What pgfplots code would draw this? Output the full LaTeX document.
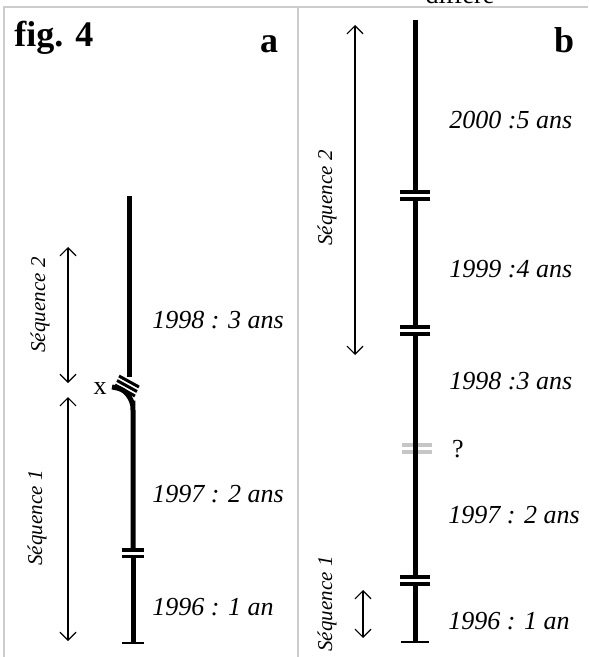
\documentclass[border=0pt]{standalone}
\usepackage{pgfplots}
\pgfplotsset{compat=1.18}
\usepackage{fontspec}
\setmainfont{Liberation Serif}
\usetikzlibrary{arrows.meta}
\begin{document}
\begin{tikzpicture}
	\begin{axis}[
		width=294pt, height=328.5pt, scale only axis,
		hide axis, clip=false,
		xmin=0, xmax=588, ymin=0, ymax=657,
		y dir=reverse,
		]
		% frame
		\addplot[gray!40, line width=1pt] coordinates {(4,657) (4,7) (588,7)};
		\addplot[gray!40, line width=1pt] coordinates {(298,7) (298,657)};
		% panel a : main line
		\addplot[black, line width=2.5pt] coordinates {(129,196) (129,377)};
		\addplot[black, line width=2.5pt, smooth] coordinates {(112,387) (119,388.5) (124,391) (128,395) (131,400) (132.6,405) (133,411) (133,550)};
		\addplot[black, line width=2.5pt] coordinates {(133,556) (133,643)};
		\addplot[black, line width=1pt] coordinates {(122,643) (144,643)};
		% double bar
		\addplot[black, line width=1.8pt] coordinates {(122,550) (144,550)};
		\addplot[black, line width=1.8pt] coordinates {(122,556.5) (144,556.5)};
		% slanted bars
		\addplot[black, line width=1.5pt] coordinates {(119,376) (139,387)};
		\addplot[black, line width=1.5pt] coordinates {(117,380.5) (137,391.5)};
		\addplot[black, line width=1.5pt] coordinates {(115,385) (135,396)};
		% arrows a
		\addplot[black, line width=0.6pt, {Straight Barb[length=4pt,width=8pt]}-{Straight Barb[length=4pt,width=8pt]}] coordinates {(68,247) (68,383)};
		\addplot[black, line width=0.6pt, {Straight Barb[length=4pt,width=8pt]}-{Straight Barb[length=4pt,width=8pt]}] coordinates {(68,397) (68,641)};
		% panel b : main line
		\addplot[black, line width=2.5pt] coordinates {(415,20) (415,192)};
		\addplot[black, line width=2.5pt] coordinates {(415,199) (415,327)};
		\addplot[black, line width=2.5pt] coordinates {(415,334) (415,577)};
		\addplot[black, line width=2.5pt] coordinates {(415,584) (415,642)};
		\addplot[black, line width=1pt] coordinates {(401,642) (429,642)};
		\addplot[black, line width=1.8pt] coordinates {(400,192) (430,192)};
		\addplot[black, line width=1.8pt] coordinates {(400,199) (430,199)};
		\addplot[black, line width=1.8pt] coordinates {(400,327) (430,327)};
		\addplot[black, line width=1.8pt] coordinates {(400,334) (430,334)};
		\addplot[black, line width=1.8pt] coordinates {(400,577) (430,577)};
		\addplot[black, line width=1.8pt] coordinates {(400,584) (430,584)};
		\addplot[gray!45, line width=1.8pt] coordinates {(402,445) (432,445)};
		\addplot[gray!45, line width=1.8pt] coordinates {(402,452) (432,452)};
		\addplot[black, line width=2.5pt] coordinates {(415,443) (415,454)};
		% arrows b
		\addplot[black, line width=0.6pt, {Straight Barb[length=4pt,width=8pt]}-{Straight Barb[length=4pt,width=8pt]}] coordinates {(355,25) (355,355)};
		\addplot[black, line width=0.6pt, {Straight Barb[length=4pt,width=8pt]}-{Straight Barb[length=4pt,width=8pt]}] coordinates {(363,590) (363,638)};
		% texts
		\node[anchor=base west, inner sep=0pt, font=\bfseries\fontsize{18}{20}\selectfont] at (axis cs:14,47) {fig. 4};
		\node[anchor=base, font=\bfseries\fontsize{18}{20}\selectfont] at (axis cs:269,53) {a};
		\node[anchor=base, font=\bfseries\fontsize{18}{20}\selectfont] at (axis cs:564,53) {b};
		\node[anchor=base, font=\fontsize{13}{15}\selectfont] at (axis cs:460,4) {différé};
		\begin{scope}[font=\itshape\fontsize{13}{15}\selectfont, inner sep=0pt]
			\node[anchor=west] at (axis cs:152,320) {1998 : 3 ans};
			\node[anchor=west] at (axis cs:152,494) {1997 : 2 ans};
			\node[anchor=west] at (axis cs:152,607) {1996 : 1 an};
			\node[anchor=west] at (axis cs:449,120) {2000 :5 ans};
			\node[anchor=west] at (axis cs:449,269) {1999 :4 ans};
			\node[anchor=west] at (axis cs:449,381) {1998 :3 ans};
			\node[anchor=west] at (axis cs:448,515) {1997 : 2 ans};
			\node[anchor=west] at (axis cs:448,621) {1996 : 1 an};
		\end{scope}
		\node[font=\fontsize{13}{15}\selectfont] at (axis cs:100,389) {x};
		\node[font=\fontsize{13}{15}\selectfont] at (axis cs:458,449) {?};
		\begin{scope}[font=\itshape\fontsize{10.5}{12}\selectfont]
			\node[rotate=90] at (axis cs:40,305) {Séquence 2};
			\node[rotate=90] at (axis cs:37,518) {Séquence 1};
			\node[rotate=90] at (axis cs:327,198) {Séquence 2};
			\node[rotate=90] at (axis cs:327,604) {Séquence 1};
		\end{scope}
		\coordinate (bl) at (axis cs:0,657);
		\coordinate (tr) at (axis cs:588,0);
	\end{axis}
	\pgfresetboundingbox
	\useasboundingbox (bl) rectangle (tr);
\end{tikzpicture}
\end{document}
